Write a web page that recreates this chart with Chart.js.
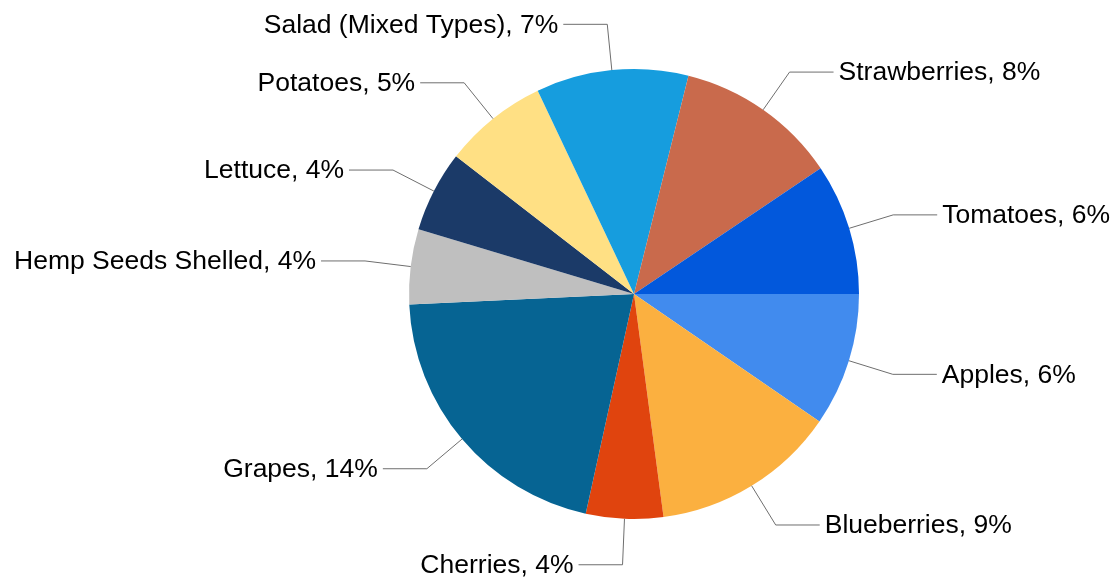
<!DOCTYPE html>
<html>
<head>
<meta charset="utf-8">
<script src="https://cdn.jsdelivr.net/npm/chart.js@4/dist/chart.umd.min.js"></script>
<style>
  html, body { margin: 0; padding: 0; background: #fff; }
  canvas { display: block; }
</style>
</head>
<body>
<canvas id="pie" width="1119" height="579"></canvas>
<script>
// slices, clockwise from 3 o'clock
var foods = ['Apples', 'Blueberries', 'Cherries', 'Grapes', 'Hemp Seeds Shelled',
             'Lettuce', 'Potatoes', 'Salad (Mixed Types)', 'Strawberries', 'Tomatoes'];
var shares = [6.4, 8.9, 3.7, 13.9, 3.6, 3.9, 5.0, 7.3, 7.8, 6.3];
var colors = ['#418bee', '#fbb040', '#e0440e', '#066493', '#bfbfbf',
              '#1b3a68', '#ffe084', '#169dde', '#c96a4c', '#0258dc'];

// callout labels with elbow leader lines
var calloutPlugin = {
  id: 'callouts',
  afterDatasetsDraw: function(chart) {
    var ctx = chart.ctx;
    var meta = chart.getDatasetMeta(0);
    ctx.save();
    ctx.font = '26.5px "Liberation Sans", Arial, sans-serif';
    ctx.textBaseline = 'middle';
    meta.data.forEach(function(arc, i) {
      var mid = (arc.startAngle + arc.endAngle) / 2;
      var r = arc.outerRadius;
      var cx = arc.x, cy = arc.y;
      var x0 = cx + Math.cos(mid) * r, y0 = cy + Math.sin(mid) * r;
      var x1 = cx + Math.cos(mid) * (r + 46), y1 = cy + Math.sin(mid) * (r + 46);
      var right = Math.cos(mid) >= 0;
      var x2 = x1 + (right ? 44 : -44);
      ctx.strokeStyle = '#6e6e6e';
      ctx.lineWidth = 1;
      ctx.beginPath();
      ctx.moveTo(x0, y0);
      ctx.lineTo(x1, y1);
      ctx.lineTo(x2, y1);
      ctx.stroke();
      ctx.fillStyle = '#000';
      ctx.textAlign = right ? 'left' : 'right';
      var txt = foods[i] + ', ' + Math.round(shares[i]) + '%';
      ctx.fillText(txt, x2 + (right ? 5 : -5), y1 + 1);
    });
    ctx.restore();
  }
};

new Chart(document.getElementById('pie'), {
  type: 'pie',
  data: {
    labels: foods,
    datasets: [{
      data: shares,
      backgroundColor: colors,
      borderWidth: 0
    }]
  },
  options: {
    responsive: false,
    animation: false,
    rotation: 90,
    layout: { padding: { top: 69, bottom: 60, left: 409, right: 260 } },
    plugins: {
      legend: { display: false },
      tooltip: { enabled: false }
    }
  },
  plugins: [calloutPlugin]
});
</script>
</body>
</html>
